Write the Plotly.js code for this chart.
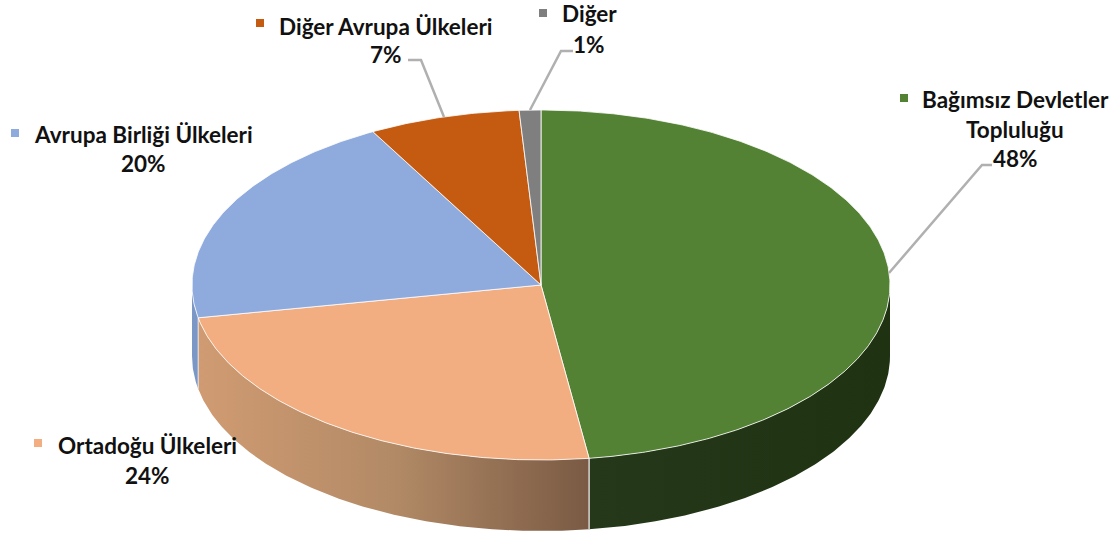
<!DOCTYPE html>
<html lang="tr">
<head>
<meta charset="utf-8">
<script src="https://cdn.plot.ly/plotly-3.0.1.min.js"></script>
<style>html,body{margin:0;padding:0;background:#fff}#c{width:1120px;height:533px}</style>
</head>
<body>
<div id="c"></div>
<script>
const categories = ['Bağımsız Devletler Topluluğu','Ortadoğu Ülkeleri','Avrupa Birliği Ülkeleri','Diğer Avrupa Ülkeleri','Diğer'];
const labelLines = [['Bağımsız Devletler','Topluluğu'],['Ortadoğu Ülkeleri'],['Avrupa Birliği Ülkeleri'],['Diğer Avrupa Ülkeleri'],['Diğer']];
const shares = [47.8,24.2,20,7,1];
const colors = ['#548235','#f2ae80','#8faadc','#c55a11','#7f7f7f'];

// pie geometry on a pixel-like axis
const cx=541, cy=285, rx=349, ry=175, depth=71;
const rim='rgba(255,255,255,0.8)';
const pt=a=>{const r=a*Math.PI/180;return [cx+rx*Math.sin(r),cy-ry*Math.cos(r)];};
const arc=(a,b)=>{const n=Math.max(2,Math.ceil((b-a)*2)),o=[];for(let i=0;i<=n;i++)o.push(pt(a+(b-a)*i/n));return o;};

let acc=0;
const spans=shares.map(v=>{const s=[acc*3.6,(acc+v)*3.6];acc+=v;return s;});

const traces=[];
const side=(a,b,grad)=>{
  const top=arc(a,b);
  const bottom=top.slice().reverse().map(p=>[p[0],p[1]+depth]);
  const xs=top.map(p=>p[0]).concat(bottom.map(p=>p[0]),[top[0][0]]);
  const ys=top.map(p=>p[1]).concat(bottom.map(p=>p[1]),[top[0][1]]);
  traces.push({type:'scatter',mode:'lines',x:xs,y:ys,fill:'toself',hoverinfo:'skip',showlegend:false,
    line:{color:'rgba(0,0,0,0)',width:0},fillcolor:grad.colorscale[0][1],fillgradient:grad});
};
// only the front-facing part of the rim is extruded
side(spans[0][0]+90,spans[0][1],{type:'horizontal',colorscale:[[0,'#25391a'],[1,'#1f3313']]});
side(spans[1][0],spans[1][1],{type:'horizontal',colorscale:[[0,'#d09b72'],[0.5,'#b28a66'],[1,'#7a5a44']]});
side(spans[2][0],270,{type:'horizontal',colorscale:[[0,'#7b97c6'],[1,'#7b97c6']]});

// seams between the extruded walls
const seam=pt(spans[0][1]);
traces.push({type:'scatter',mode:'lines',x:[seam[0],seam[0]],y:[seam[1],seam[1]+depth],hoverinfo:'skip',showlegend:false,line:{color:'#d8d4d0',width:1.5}});
const seam2=pt(spans[1][1]);
traces.push({type:'scatter',mode:'lines',x:[seam2[0],seam2[0]],y:[seam2[1],seam2[1]+depth],hoverinfo:'skip',showlegend:false,line:{color:'#e8e8e8',width:1}});

// top faces
categories.forEach((c,i)=>{
  const a=arc(spans[i][0],spans[i][1]);
  const xs=[cx].concat(a.map(p=>p[0]),[cx]);
  const ys=[cy].concat(a.map(p=>p[1]),[cy]);
  traces.push({type:'scatter',mode:'lines',name:c,x:xs,y:ys,fill:'toself',fillcolor:colors[i],hoverinfo:'skip',showlegend:false,
    line:{color:rim,width:1}});
});

// leader lines
const leaders=[[[992,982,889],[165,165,273]],[[408,421,444],[60,60,117]],[[573,561,530],[51,51,110]]];
leaders.forEach(l=>traces.push({type:'scatter',mode:'lines',x:l[0],y:l[1],hoverinfo:'skip',showlegend:false,line:{color:'#b0b0b0',width:2.5}}));

// label keys
const keyX=[904,38,15,260,543], keyY=[98,443,133,23,13];
traces.push({type:'scatter',mode:'markers',x:keyX,y:keyY,hoverinfo:'skip',showlegend:false,
  marker:{symbol:'square',size:8,color:colors,line:{width:0}}});

// label text
const labelX=[1015,147,143,386,589];
const labelY=[[99,129,158],[445,475],[134,163],[26,54],[13,44]];
const anns=[];
const font={family:'Lato, "Noto Sans", sans-serif',size:22.5,color:'#111111',weight:700};
const note=(t,x,y)=>anns.push({text:'<b>'+t+'</b>',x,y,xref:'x',yref:'y',showarrow:false,xanchor:'center',yanchor:'middle',font,borderpad:0});
categories.forEach((c,i)=>{
  labelLines[i].forEach((t,j)=>note(t,labelX[i],labelY[i][j]));
  note(Math.round(shares[i])+'%',labelX[i],labelY[i][labelLines[i].length]);
});

Plotly.newPlot('c',traces,{
  width:1120,height:533,margin:{l:0,r:0,t:0,b:0},
  paper_bgcolor:'#fff',plot_bgcolor:'#fff',showlegend:false,
  xaxis:{range:[0,1120],visible:false,fixedrange:true},
  yaxis:{range:[533,0],visible:false,fixedrange:true},
  annotations:anns
},{displayModeBar:false,staticPlot:true});
</script>
</body>
</html>
